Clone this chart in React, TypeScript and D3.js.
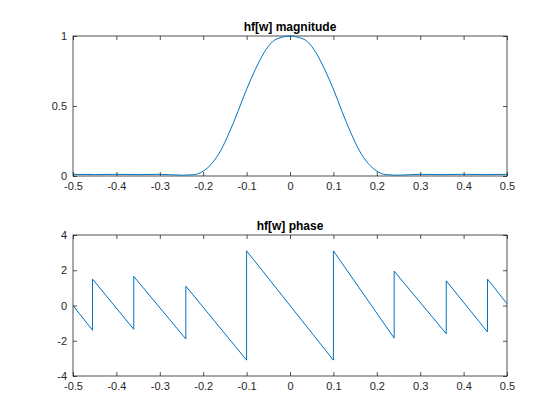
import { useEffect, useRef } from 'react';
import * as d3 from 'd3';

const xTicks = [-0.5, -0.4, -0.3, -0.2, -0.1, 0, 0.1, 0.2, 0.3, 0.4, 0.5];
const magX = [-0.5, -0.45, -0.4, -0.35, -0.3, -0.25, -0.22, -0.2, -0.18, -0.16, -0.14, -0.12, -0.1, -0.08, -0.06, -0.04, -0.02, 0,
  0.02, 0.04, 0.06, 0.08, 0.1, 0.12, 0.14, 0.16, 0.18, 0.2, 0.22, 0.25, 0.3, 0.35, 0.4, 0.45, 0.5];
const magY = [0.012, 0.01, 0.012, 0.01, 0.012, 0.006, 0.01, 0.035, 0.09, 0.18, 0.31, 0.46, 0.62, 0.76, 0.88, 0.96, 0.99, 1,
  0.99, 0.96, 0.88, 0.76, 0.62, 0.46, 0.31, 0.18, 0.09, 0.035, 0.01, 0.006, 0.012, 0.01, 0.012, 0.01, 0.012];
const phaseX = [-0.5, -0.455, -0.455, -0.36, -0.36, -0.24, -0.24, -0.1, -0.1, 0.1, 0.1, 0.24, 0.24, 0.36, 0.36, 0.455, 0.455, 0.5];
const phaseY = [0, -1.4, 1.5, -1.35, 1.65, -1.9, 1.1, -3.1, 3.1, -3.1, 3.1, -1.85, 1.95, -1.6, 1.4, -1.5, 1.5, 0.1];

export default function App() {
  const svgRef = useRef<SVGSVGElement>(null);

  useEffect(() => {
    const svg = d3.select(svgRef.current!);
    svg.selectAll('*').remove();
    const left = 73, right = 507;
    const x = d3.scaleLinear().domain([-0.5, 0.5]).range([left, right]);
    const panels = [
      { top: 36, bottom: 176, dom: [0, 1], yt: [0, 0.5, 1], xs: magX, ys: magY, title: 'hf[w] magnitude', smooth: true },
      { top: 235, bottom: 376, dom: [-4, 4], yt: [-4, -2, 0, 2, 4], xs: phaseX, ys: phaseY, title: 'hf[w] phase', smooth: false },
    ];
    panels.forEach(p => {
      const y = d3.scaleLinear().domain(p.dom).range([p.bottom, p.top]);
      const g = svg.append('g');
      g.append('rect').attr('x', left).attr('y', p.top).attr('width', right - left).attr('height', p.bottom - p.top)
        .attr('fill', 'white').attr('stroke', '#262626').attr('stroke-width', 0.8);
      const line = d3.line<number>().x(i => x(p.xs[i])).y(i => y(p.ys[i]))
        .curve(p.smooth ? d3.curveMonotoneX : d3.curveLinear);
      g.append('path').attr('d', line(d3.range(p.xs.length))).attr('fill', 'none')
        .attr('stroke', '#0072BD').attr('stroke-width', 1);
      const fmt = (d: d3.NumberValue) => String(d);
      const ax = g.append('g').attr('transform', `translate(0,${p.bottom})`)
        .call(d3.axisBottom(x).tickValues(xTicks).tickSizeInner(-4).tickSizeOuter(0).tickPadding(6).tickFormat(fmt));
      const ax2 = g.append('g').attr('transform', `translate(0,${p.top})`)
        .call(d3.axisTop(x).tickValues(xTicks).tickSizeInner(-4).tickSizeOuter(0).tickFormat(() => ''));
      const ay = g.append('g').attr('transform', `translate(${left},0)`)
        .call(d3.axisLeft(y).tickValues(p.yt).tickSizeInner(-4).tickSizeOuter(0).tickPadding(6).tickFormat(fmt));
      const ay2 = g.append('g').attr('transform', `translate(${right},0)`)
        .call(d3.axisRight(y).tickValues(p.yt).tickSizeInner(-4).tickSizeOuter(0).tickFormat(() => ''));
      [ax, ax2, ay, ay2].forEach(a => {
        a.select('.domain').remove();
        a.selectAll('line').attr('stroke', '#262626').attr('stroke-width', 0.8);
        a.selectAll('text').attr('fill', '#262626').style('font-size', '11px').style('font-family', 'Liberation Sans, Arial');
      });
      g.append('text').attr('x', (left + right) / 2).attr('y', p.top - 5).attr('text-anchor', 'middle')
        .style('font-size', '12px').style('font-weight', 'bold').style('font-family', 'Liberation Sans, Arial')
        .attr('fill', 'black').text(p.title);
    });
  }, []);

  return <svg ref={svgRef} width={560} height={420} style={{ position: 'absolute', left: 0, top: 0, background: 'white' }} />;
}
